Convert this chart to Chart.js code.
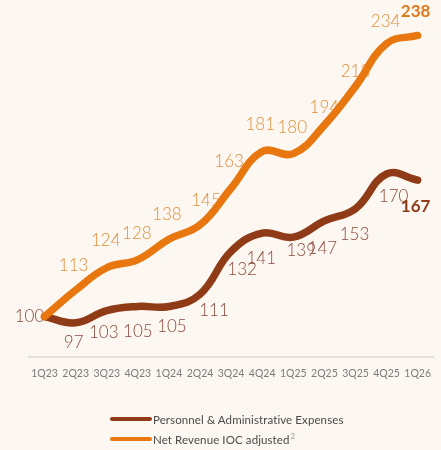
<!DOCTYPE html>
<html>
<head>
<meta charset="utf-8">
<script src="https://cdn.jsdelivr.net/npm/chart.js@4"></script>
<style>
  html, body { margin: 0; padding: 0; background: #fcf7f0; }
  #wrap { position: relative; width: 441px; height: 450px; background: #fcf7f0; overflow: hidden; }
  #chart { position: absolute; left: 0; top: 0; }
  .lg { position: absolute; left: 110px; height: 16px; display: flex; align-items: center;
        font-family: Lato, "Open Sans", sans-serif; font-size: 11.5px; color: #4a4a4a; letter-spacing: 0.1px; white-space: nowrap; }
  .lg .sw { width: 42px; height: 4px; border-radius: 2px; margin-right: 1px; }
  .lg sup { font-size: 8px; color: #9a9a9a; position: relative; top: -3px; vertical-align: baseline; margin-left: 1px; }
</style>
</head>
<body>
<div id="wrap">
  <canvas id="chart" width="441" height="450"></canvas>
  <div class="lg" style="top:411px;"><span class="sw" style="background:#8f3b17"></span>Personnel &amp; Administrative Expenses</div>
  <div class="lg" style="top:431px;"><span class="sw" style="background:#e8770f"></span>Net Revenue IOC adjusted<sup>2</sup></div>
</div>
<script>
// ---- data ----
const quarters = ["1Q23","2Q23","3Q23","4Q23","1Q24","2Q24","3Q24","4Q24","1Q25","2Q25","3Q25","4Q25","1Q26"];
const expenses = [100, 97, 103, 105, 105, 111, 132, 141, 139, 147, 153, 170, 167];
const netRevenue = [100, 113, 124, 128, 138, 145, 163, 181, 180, 194, 213, 234, 238];
const seriesNames = ["Personnel & Administrative Expenses", "Net Revenue IOC adjusted"];

// ---- label placement (offsets from each point, px) ----
const revenueLabelDx = [null, -2, -1, -1, -2, 6, -2, -2, -1, 0, 0, -1, -2];
const revenueLabelDy = [null, -25, -27, -26, -25, -24, -27, -27, -26, -18, -15, -22, -24];
const expensesLabelDx = [-15, -2, -3, 0, 3, 14, 11, -1, 8, -2, -1, 7, -2];
const expensesLabelDy = [0, 20, 22, 25, 20, 16, 18, 25, 13, 28, 26, 23, 26];

const ORANGE = "#e8770f", BROWN = "#8f3b17";
const ORANGE_TXT = "#e0913f", BROWN_TXT = "#8a4a3e";

const valueLabels = {
  id: "valueLabels",
  beforeDatasetsDraw(chart) {
    const ctx = chart.ctx;
    const xs = chart.scales.x, ys = chart.scales.y;
    const sets = [
      { data: expenses, dx: expensesLabelDx, dy: expensesLabelDy, color: BROWN_TXT, bold: BROWN },
      { data: netRevenue, dx: revenueLabelDx, dy: revenueLabelDy, color: ORANGE_TXT, bold: "#de7a1c" }
    ];
    ctx.save();
    ctx.textAlign = "center";
    ctx.textBaseline = "middle";
    sets.forEach(s => {
      s.data.forEach((v, i) => {
        if (s.dx[i] === null) return;
        const last = i === s.data.length - 1;
        const x = xs.getPixelForValue(i) + s.dx[i];
        const y = ys.getPixelForValue(v) + s.dy[i];
        ctx.font = last ? "bold 17px Lato, sans-serif" : "300 17px Lato, sans-serif";
        ctx.fillStyle = last ? s.bold : s.color;
        ctx.fillText(String(v), x, y);
      });
    });
    ctx.restore();
  }
};

new Chart(document.getElementById("chart"), {
  type: "line",
  data: {
    labels: quarters,
    datasets: [
      { label: seriesNames[0], data: expenses, borderColor: BROWN, order: 1 },
      { label: seriesNames[1], data: netRevenue, borderColor: ORANGE, order: 0 }
    ]
  },
  options: {
    responsive: false,
    devicePixelRatio: 1,
    animation: false,
    layout: { padding: { left: 29, right: 0, top: 11, bottom: 60 } },
    elements: {
      line: { borderWidth: 7.5, tension: 0.42, borderCapStyle: "round", borderJoinStyle: "round", fill: false },
      point: { radius: 0, hoverRadius: 0 }
    },
    plugins: { legend: { display: false }, tooltip: { enabled: false } },
    scales: {
      x: {
        offset: true,
        grid: { display: false, drawTicks: false },
        border: { display: true, color: "#e4dfd8", width: 2 },
        ticks: { color: "#7c7c7c", font: { family: "Lato, sans-serif", size: 10.5 }, padding: 10, autoSkip: false, maxRotation: 0 }
      },
      y: { display: false, min: 80, max: 250 }
    }
  },
  plugins: [valueLabels]
});
</script>
</body>
</html>
